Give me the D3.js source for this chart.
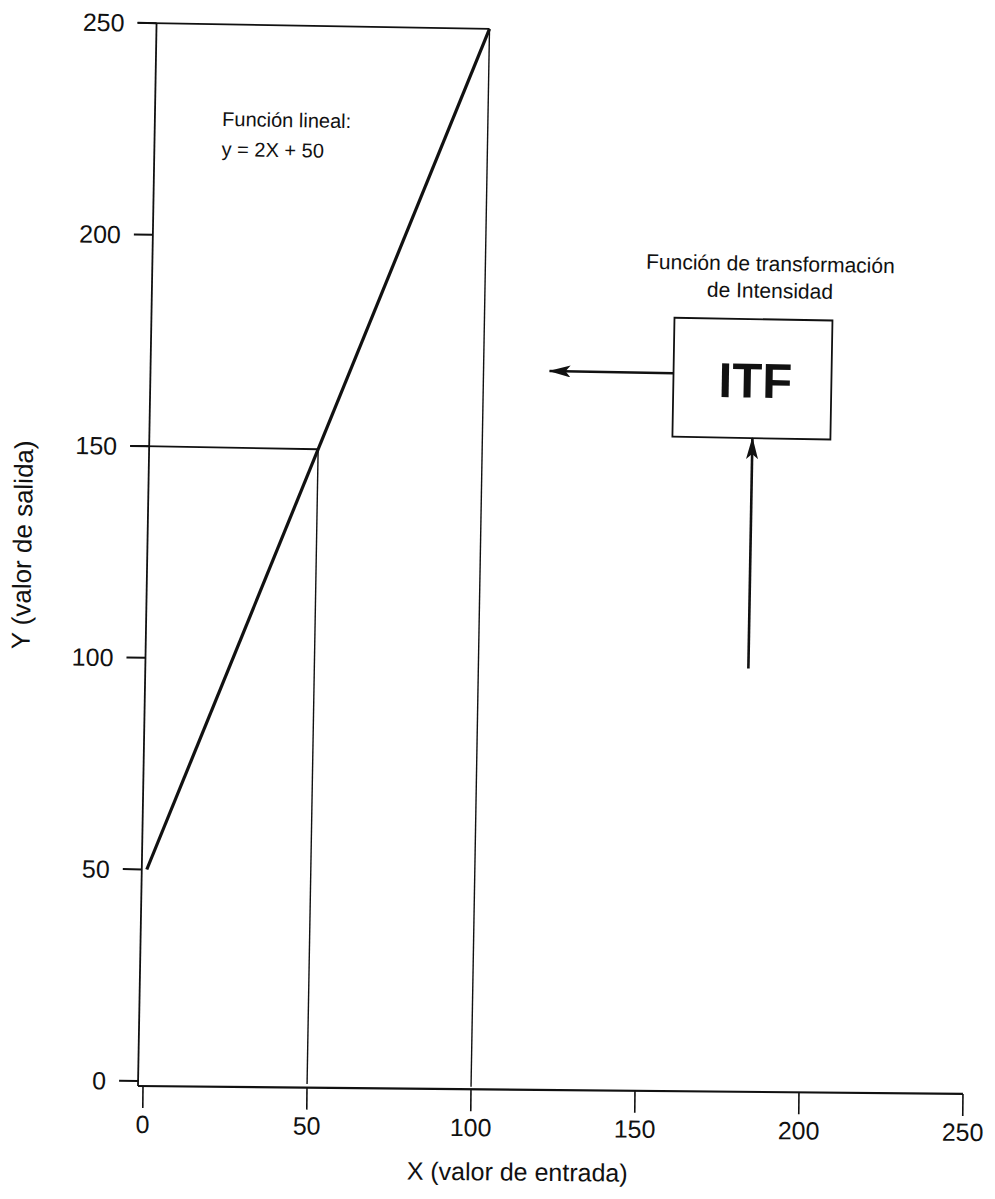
<!DOCTYPE html>
<html>
<head>
<meta charset="utf-8">
<script src="https://cdn.jsdelivr.net/npm/d3@7"></script>
<style>
  html, body { margin: 0; padding: 0; background: #fff; }
  svg { display: block; }
  text { font-family: "Liberation Sans", Arial, Helvetica, sans-serif; fill: #111; }
</style>
</head>
<body>
<svg id="chart" width="995" height="1199"></svg>
<script>
// Axis ticks
const xTicks = [0, 50, 100, 150, 200, 250];
const yTicks = [0, 50, 100, 150, 200, 250];

// Linear intensity transform y = 2X + 50, sampled at its end points
const funcX = [0, 100];
const funcY = [50, 250];

// Worked examples: input -> output
const exampleIn = [50, 100];
const exampleOut = [150, 250];

// Text
const funcLabel = ["Función lineal:", "y = 2X + 50"];
const funcLabelPos = [19, 226];          // data coords of first line start
const itfTitle = ["Función de transformación", "de Intensidad"];
const itfName = "ITF";
const xTitle = "X (valor de entrada)";
const yTitle = "Y (valor de salida)";

const svg = d3.select("#chart");
const g = svg.append("g").attr("transform", "translate(138,1086) rotate(1)");

const x = d3.scaleLinear().domain([0, 250]).range([5, 825]);
const y = d3.scaleLinear().domain([0, 250]).range([-5, -1063]);

const ink = "#111";

// y axis line
g.append("line").attr("x1", 0).attr("y1", 0).attr("x2", 0).attr("y2", y(250))
  .attr("stroke", ink).attr("stroke-width", 1.8);

// y ticks + labels
const yt = g.append("g");
yt.selectAll("line").data(yTicks).join("line")
  .attr("x1", -19).attr("x2", 0)
  .attr("y1", d => y(d)).attr("y2", d => y(d))
  .attr("stroke", ink).attr("stroke-width", 2);
yt.selectAll("text").data(yTicks).join("text")
  .attr("x", -32).attr("y", d => y(d))
  .attr("text-anchor", "end").attr("dominant-baseline", "central")
  .attr("font-size", 25)
  .text(d => d);

// x axis: line, ticks, labels, title (runs a little flatter than the rest)
const xa = g.append("g").attr("transform", "rotate(-0.45)");
xa.append("line").attr("x1", 0).attr("y1", 0).attr("x2", x(250)).attr("y2", 0)
  .attr("stroke", ink).attr("stroke-width", 2.2);
xa.selectAll(".xtick").data(xTicks).join("line")
  .attr("class", "xtick")
  .attr("x1", d => x(d)).attr("x2", d => x(d))
  .attr("y1", 0).attr("y2", 22)
  .attr("stroke", ink).attr("stroke-width", 1.6);
xa.selectAll(".xlab").data(xTicks).join("text")
  .attr("class", "xlab")
  .attr("x", d => x(d)).attr("y", 47)
  .attr("text-anchor", "middle")
  .attr("font-size", 25)
  .text(d => d);
xa.append("text").attr("x", (x(0) + x(250)) / 2 - 35).attr("y", 91)
  .attr("text-anchor", "middle").attr("font-size", 25).text(xTitle);

// y axis title
g.append("text")
  .attr("transform", "translate(-125,-539) rotate(-90)")
  .attr("text-anchor", "middle").attr("dominant-baseline", "central")
  .attr("font-size", 26).text(yTitle);

// guide lines from the examples
exampleIn.forEach((vx, i) => {
  const vy = exampleOut[i];
  g.append("line").attr("x1", -19).attr("y1", y(vy)).attr("x2", x(vx)).attr("y2", y(vy))
    .attr("stroke", ink).attr("stroke-width", 1.8);
  g.append("line").attr("x1", x(vx)).attr("y1", y(vy)).attr("x2", x(vx)).attr("y2", y(0))
    .attr("stroke", ink).attr("stroke-width", 1.4);
});

// transform line
const line = d3.line().x(d => x(d[0])).y(d => y(d[1]));
g.append("path").datum(funcX.map((v, i) => [v, funcY[i]]))
  .attr("d", line).attr("fill", "none")
  .attr("stroke", ink).attr("stroke-width", 3.2);

// function annotation
g.selectAll(".flab").data(funcLabel).join("text")
  .attr("class", "flab")
  .attr("x", x(funcLabelPos[0]))
  .attr("y", (d, i) => y(funcLabelPos[1]) + i * 30)
  .attr("font-size", 20)
  .text(d => d);

// ITF block
const box = { cx: 602, cy: -718, w: 158, h: 119 };
g.selectAll(".ititle").data(itfTitle).join("text")
  .attr("class", "ititle")
  .attr("x", box.cx + 16).attr("y", (d, i) => -826 + i * 27)
  .attr("text-anchor", "middle").attr("font-size", 21)
  .text(d => d);
g.append("rect")
  .attr("x", box.cx - box.w / 2).attr("y", box.cy - box.h / 2)
  .attr("width", box.w).attr("height", box.h)
  .attr("fill", "none").attr("stroke", ink).attr("stroke-width", 1.8);
g.append("text").attr("x", box.cx + 3).attr("y", box.cy + 2)
  .attr("text-anchor", "middle").attr("dominant-baseline", "central")
  .attr("font-size", 49).attr("font-weight", "bold").text(itfName);

const defs = svg.append("defs");
defs.append("marker").attr("id", "head")
  .attr("viewBox", "0 0 22 12").attr("refX", 21).attr("refY", 6)
  .attr("markerWidth", 22).attr("markerHeight", 12)
  .attr("markerUnits", "userSpaceOnUse").attr("orient", "auto")
  .append("path").attr("d", "M0,0 L22,6 L0,12 L5,6 Z").attr("fill", ink);

// output arrow (left) and input arrow (up)
g.append("line")
  .attr("x1", box.cx - box.w / 2).attr("y1", -722)
  .attr("x2", 399).attr("y2", -722)
  .attr("stroke", ink).attr("stroke-width", 2.6).attr("marker-end", "url(#head)");
g.append("line")
  .attr("x1", 603).attr("y1", -428)
  .attr("x2", 603).attr("y2", box.cy + box.h / 2)
  .attr("stroke", ink).attr("stroke-width", 2.6).attr("marker-end", "url(#head)");
</script>
</body>
</html>
